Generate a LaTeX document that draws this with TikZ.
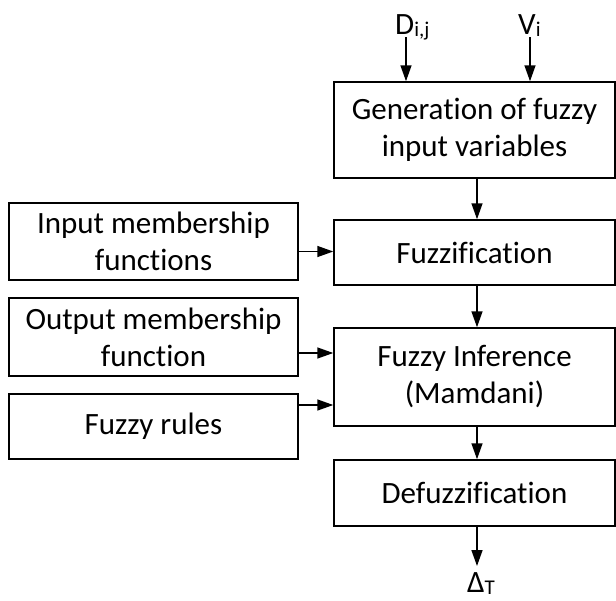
\documentclass[tikz,border=0pt]{standalone}
\usepackage{fontspec}
\setmainfont{Carlito}[Ligatures={NoCommon}]
\usetikzlibrary{arrows.meta}
\newcommand{\sbs}[1]{\raisebox{-0.2ex}{\fontsize{21}{21}\selectfont #1}}
\begin{document}
\begin{tikzpicture}[x=1pt,y=-1pt,
  box/.style={draw,line width=1.5pt,inner sep=0pt,align=center,
    font=\fontsize{31}{37}\selectfont},
  arr/.style={line width=1.5pt,-{Triangle[length=16pt,width=11pt]}},
  lab/.style={inner sep=0pt,font=\fontsize{31}{37}\selectfont}]
\useasboundingbox (0,0) rectangle (616,600);
\node[box,minimum width=281pt,minimum height=96pt] (gen) at (474.5,130) {Generation of fuzzy\\input variables};
\node[box,minimum width=281pt,minimum height=65pt] (fuzz) at (474.5,252.5) {Fuzzification};
\node[box,minimum width=281pt,minimum height=98pt] (inf) at (474.5,377) {Fuzzy Inference\\(Mamdani)};
\node[box,minimum width=281pt,minimum height=66pt] (defz) at (474.5,493) {Defuzzification};
\node[box,minimum width=289pt,minimum height=77pt] (inmf) at (153.5,241.5) {Input membership\\functions};
\node[box,minimum width=289pt,minimum height=78pt] (outmf) at (153.5,337) {Output membership\\function};
\node[box,minimum width=289pt,minimum height=65pt] (rules) at (153.5,426.5) {Fuzzy rules};
\coordinate (dtop) at (406,37);
\coordinate (vtop) at (530,37);
\coordinate (outend) at (477,566);
\node[lab,anchor=base west] (dlab) at (395,34) {D\sbs{i,j}};
\node[lab,anchor=base west] (vlab) at (518,34) {V\sbs{i}};
\node[lab,anchor=base west] (tlab) at (467,592) {Δ\sbs{T}};
\draw[arr] (dtop) -- (dtop |- gen.north);
\draw[arr] (vtop) -- (vtop |- gen.north);
\draw[arr] (gen.south -| outend) -- (fuzz.north -| outend);
\draw[arr] (fuzz.south -| outend) -- (inf.north -| outend);
\draw[arr] (inf.south -| outend) -- (defz.north -| outend);
\draw[arr] (defz.south -| outend) -- (outend);
\draw[arr] ([yshift=-10pt]inmf.east) -- ([yshift=-10pt]inmf.east -| fuzz.west);
\draw[arr] ([yshift=-16pt]outmf.east) -- ([yshift=-16pt]outmf.east -| inf.west);
\draw[arr] ([yshift=21.5pt]rules.east) -- ([yshift=21.5pt]rules.east -| inf.west);
\end{tikzpicture}
\end{document}
